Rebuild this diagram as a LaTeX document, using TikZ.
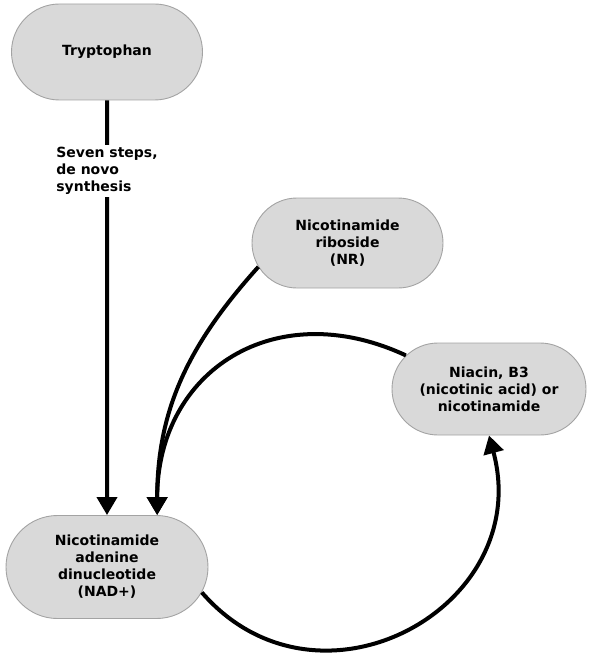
\documentclass[tikz,border=0pt]{standalone}
\usepackage{fontspec}
\setmainfont{DejaVu Sans}
\usepackage{tikz}
\usetikzlibrary{arrows.meta,positioning,shapes.misc}
\definecolor{boxgray}{HTML}{D9D9D9}
\definecolor{rimgray}{HTML}{A3A3A3}
\tikzset{>={Triangle[length=18pt,width=20pt]},x=1pt,y=-1pt,main node/.style={rounded rectangle,fill=boxgray,draw=rimgray,line width=0.9pt,inner sep=0pt,align=center,font=\fontsize{14}{17}\selectfont\bfseries},edge/.style={line width=4pt},step label/.style={fill=white,inner sep=2pt,align=left,font=\fontsize{14}{17}\selectfont\bfseries}}

\begin{document}
\begin{tikzpicture}
    \useasboundingbox (0,0) rectangle (590,663);
    \node[main node, on grid, minimum width=191pt, minimum height=96pt] (v1) at (107,52) {Tryptophan};
    \node[main node, on grid, minimum width=202pt, minimum height=103pt] (v4) [below = 515pt of v1] {Nicotinamide\\adenine\\dinucleotide\\(NAD+)};
    \node[main node, on grid, minimum width=191pt, minimum height=90pt] (v2) [below right = 191pt and 240.5pt of v1] {Nicotinamide\\riboside\\(NR)};
    \node[main node, on grid, minimum width=194pt, minimum height=92pt] (v3) [below right = 146pt and 141.5pt of v2] {Niacin, B3\\(nicotinic acid) or\\nicotinamide};
    \path[edge] (v1) edge [->] node[step label, pos=0.17] {Seven steps,\\de novo\\synthesis} (v4);
    \path[edge] (v2.195) edge [->, out=228, in=90] (v4.46);
    \path[edge] (v3.158) edge [->, out=155, in=90, looseness=1.25] (v4.46);
    \path[edge] (v4.-15) edge [->, out=-49, in=285, looseness=1.39] (v3.south);
\end{tikzpicture}
\end{document}
